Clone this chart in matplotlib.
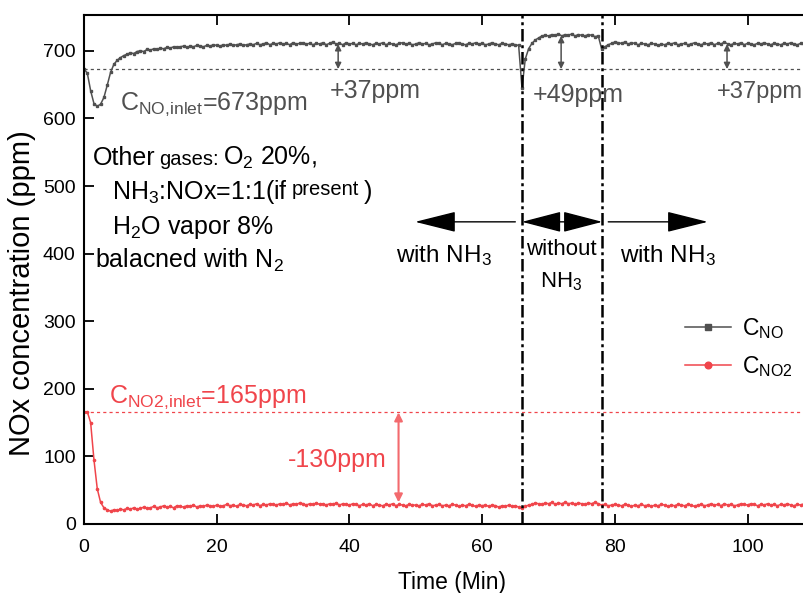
import numpy as np
import matplotlib.pyplot as plt

plt.rcParams['font.family'] = ['Liberation Sans', 'DejaVu Sans']
plt.rcParams['mathtext.fontset'] = 'custom'
plt.rcParams['mathtext.rm'] = 'Liberation Sans'
plt.rcParams['mathtext.it'] = 'Liberation Sans:italic'
plt.rcParams['mathtext.bf'] = 'Liberation Sans:bold'

time = np.arange(0, 108.51, 0.5)
c_no = [
    673, 667, 641, 622, 618, 621, 631, 649, 668, 680,
    686, 690, 693, 695, 697, 696, 699, 700, 699, 702,
    701, 703, 702, 704, 703, 705, 704, 706, 705, 706,
    707, 705, 707, 706, 708, 707, 706, 708, 707, 709,
    708, 707, 709, 708, 710, 708, 709, 710, 708, 709,
    710, 709, 711, 709, 710, 712, 709, 711, 710, 712,
    710, 711, 709, 712, 710, 711, 712, 710, 711, 709,
    711, 710, 712, 709, 711, 713, 710, 711, 709, 712,
    710, 711, 709, 711, 710, 712, 710, 709, 711, 710,
    712, 709, 711, 710, 709, 711, 712, 710, 711, 709,
    710, 712, 710, 711, 709, 710, 712, 711, 709, 711,
    710, 709, 711, 712, 710, 709, 711, 710, 712, 710,
    711, 709, 710, 712, 710, 709, 711, 710, 709, 710,
    709, 708, 645, 688, 703, 711, 716, 719, 722, 723,
    722, 724, 723, 725, 722, 724, 723, 725, 722, 724,
    723, 722, 724, 723, 721, 722, 703, 706, 709, 711,
    713, 712, 711, 713, 710, 712, 711, 709, 711, 710,
    709, 711, 710, 708, 710, 709, 711, 710, 712, 709,
    710, 711, 709, 710, 712, 710, 709, 711, 710, 712,
    709, 711, 710, 713, 710, 709, 711, 710, 712, 709,
    711, 710, 709, 711, 710, 712, 710, 709, 711, 710,
    709, 711, 710, 712, 710, 709, 711, 710,
]
c_no2 = [
    166, 166, 150, 95, 52, 32, 24, 21, 19, 21,
    20, 22, 21, 23, 22, 24, 22, 23, 25, 23,
    24, 26, 24, 25, 27, 25, 26, 24, 27, 26,
    25, 27, 26, 28, 25, 27, 26, 28, 27, 26,
    28, 26, 27, 29, 27, 28, 26, 29, 28, 27,
    29, 28, 30, 27, 29, 28, 30, 29, 28, 30,
    29, 31, 28, 30, 29, 31, 30, 28, 30, 29,
    31, 29, 30, 28, 30, 29, 31, 28, 30, 29,
    28, 30, 29, 27, 29, 28, 30, 27, 29, 28,
    27, 29, 28, 30, 27, 29, 28, 27, 29, 28,
    28, 27, 29, 28, 30, 27, 28, 29, 27, 28,
    27, 29, 28, 26, 28, 27, 29, 28, 26, 28,
    27, 28, 26, 28, 27, 25, 27, 26, 28, 26,
    27, 25, 24, 26, 28, 29, 31, 30, 29, 31,
    30, 32, 29, 31, 30, 32, 30, 31, 29, 31,
    30, 29, 31, 30, 32, 30, 28, 29, 27, 28,
    29, 28, 27, 29, 28, 26, 28, 27, 29, 27,
    28, 26, 28, 27, 29, 28, 26, 28, 27, 29,
    28, 27, 29, 28, 26, 28, 29, 27, 28, 30,
    28, 29, 27, 30, 28, 29, 27, 28, 30, 29,
    28, 30, 29, 27, 29, 28, 30, 28, 29, 27,
    29, 28, 30, 28, 27, 29, 28, 30,
]
no_inlet = 673
no2_inlet = 165
switch_times = [66, 78]
x_ticks = [0, 20, 40, 60, 80, 100]
y_ticks = [0, 100, 200, 300, 400, 500, 600, 700]

GRAY = '#505050'
RED = '#F0454B'
W, H = 804, 593

fig = plt.figure(figsize=(W / 100, H / 100), dpi=100)
ax = fig.add_axes([84 / W, 69 / H, 720 / W, 509 / H])

ax.plot(time, c_no, color=GRAY, lw=1.1, marker='s', ms=1.6, label=r'C$_{\mathrm{NO}}$')
ax.plot(time, c_no2, color=RED, lw=1.1, marker='o', ms=1.6, label=r'C$_{\mathrm{NO2}}$')

ax.axhline(no_inlet, color=GRAY, lw=0.9, ls=(0, (2.5, 2.5)))
ax.axhline(no2_inlet, color=RED, lw=0.9, ls=(0, (2.5, 2.5)))
for t in switch_times:
    ax.axvline(t, color='black', lw=1.8, ls=(0, (5, 1.5, 1.2, 1.5)))

ax.set_xlim(0, 108.5)
ax.set_ylim(0, 753)
ax.set_xticks(x_ticks)
ax.set_yticks(y_ticks)
ax.tick_params(direction='in', length=7, width=1.3, labelsize=14, top=True)
ax.tick_params(axis='x', pad=11)
ax.tick_params(axis='y', pad=6)
for s in ax.spines.values():
    s.set_linewidth(1.5)
ax.spines['right'].set_visible(False)

ax.set_xlabel('Time (Min)', fontsize=16.5)
ax.set_ylabel('NOx concentration (ppm)', fontsize=21)
ax.xaxis.set_label_coords(0.511, -0.092)
ax.yaxis.set_label_coords(-0.066, 0.454)


def updown(x, y0, y1, color, scale, lw):
    ax.annotate('', xy=(x, y1), xytext=(x, y0),
                arrowprops=dict(arrowstyle='<|-|>', color=color, lw=lw,
                                mutation_scale=scale, shrinkA=0, shrinkB=0))


updown(38.3, no_inlet, 710, GRAY, 9, 1.1)
updown(71.9, no_inlet, 722, GRAY, 9, 1.1)
updown(96.9, no_inlet, 710, GRAY, 9, 1.1)
updown(47.4, no2_inlet, 32, '#F36A6E', 12, 1.5)

big = dict(color='black', lw=1, mutation_scale=10, shrinkA=0, shrinkB=0)
ax.annotate('', xy=(49.9, 447), xytext=(65.0, 447),
            arrowprops=dict(arrowstyle='-|>,head_length=2.6,head_width=0.65', **big))
ax.annotate('', xy=(78.1, 447), xytext=(66.0, 447),
            arrowprops=dict(arrowstyle='<|-|>,head_length=2.5,head_width=0.65', **big))
ax.annotate('', xy=(94.0, 447), xytext=(79.0, 447),
            arrowprops=dict(arrowstyle='-|>,head_length=2.6,head_width=0.65', **big))


def ftext(x, y, s, size=18, color='black', **kw):
    return fig.text(x / W, 1 - y / H, s, fontsize=size, color=color,
                    va='baseline', **kw)


def text_row(x, y, pieces):
    r = fig.canvas.get_renderer()
    for s, size, dy in pieces:
        t = ftext(x, y + dy, s, size)
        x = t.get_window_extent(r).x1 + 4


ftext(120, 110, r'C$_{\mathrm{NO{,}inlet}}$=673ppm', color=GRAY)
ftext(330, 98, '+37ppm', color=GRAY)
ftext(533, 102, '+49ppm', color=GRAY)
ftext(717, 98, '+37ppm', size=17, color=GRAY)
ftext(109, 403, r'C$_{\mathrm{NO2{,}inlet}}$=165ppm', color=RED)
ftext(288, 467, '-130ppm', color=RED)

text_row(93, 165, [('Other', 18, 0), ('gases:', 14.5, 0), (r'O$_2$ 20%,', 18, 0)])
text_row(112, 199, [(r'NH$_3$:NOx=1:1(if', 18, 0), ('present', 14.5, -4), (')', 18, 0)])
ftext(112, 234, r'H$_2$O vapor 8%', 18)
ftext(95, 268, r'balacned with N$_2$', 18)

ftext(396, 262, r'with NH$_3$', 17.5)
ftext(620, 262, r'with NH$_3$', 17.5)
ftext(561, 255, 'without', 16, ha='center')
ftext(561, 287, r'NH$_3$', 16, ha='center')

ax.legend(loc='upper left', bbox_to_anchor=(676 / W, 1 - 307 / H),
          bbox_transform=fig.transFigure, frameon=False, fontsize=16.5,
          handlelength=2.0, markerscale=3, labelspacing=0.55, handletextpad=0.5,
          borderaxespad=0)

fig.savefig('out.png', dpi=100)
